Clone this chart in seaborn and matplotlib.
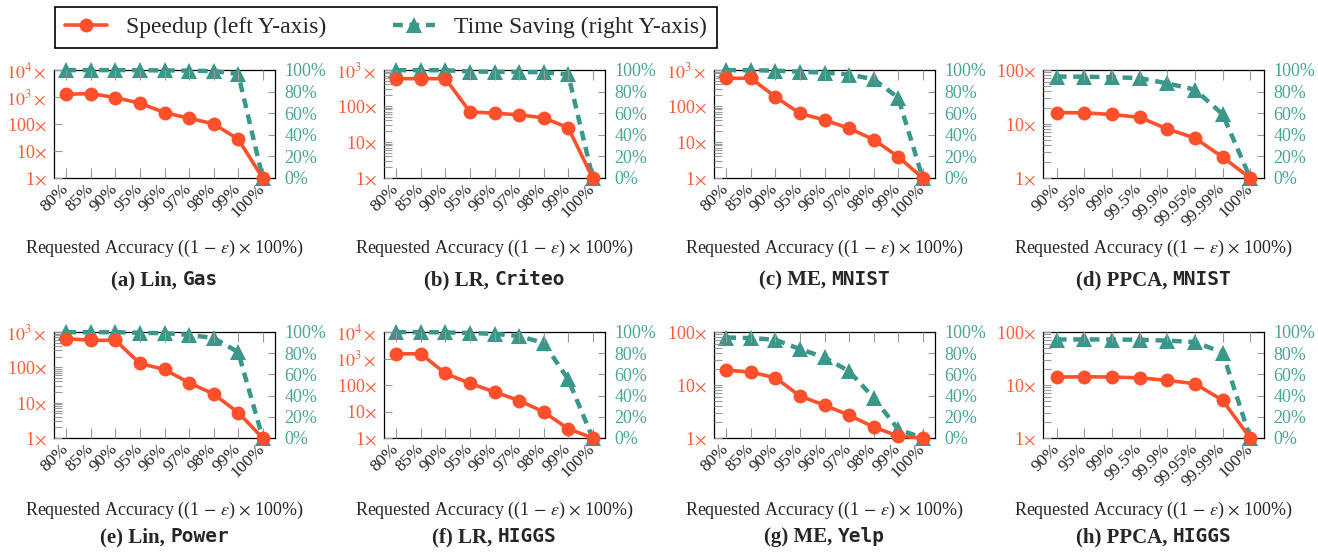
import numpy as np
import matplotlib
matplotlib.use("Agg")
import matplotlib.pyplot as plt
import seaborn as sns
from matplotlib.lines import Line2D
from matplotlib.offsetbox import TextArea, HPacker, AnnotationBbox
from matplotlib.ticker import FixedLocator, FixedFormatter, LogLocator, NullFormatter

# ---------------- data ----------------
acc_full = ["80%", "85%", "90%", "95%", "96%", "97%", "98%", "99%", "100%"]
acc_ppca = ["90%", "95%", "99%", "99.5%", "99.9%", "99.95%", "99.99%", "100%"]

speedup_lin_gas = [1260, 1340, 950, 590, 265, 164, 101, 27.5, 1]
saving_lin_gas = [99.9, 99.9, 99.9, 99.8, 99.6, 99.4, 99.0, 96.4, 0]

speedup_lr_criteo = [575, 575, 575, 69, 63, 57, 47, 25, 1]
saving_lr_criteo = [99.8, 99.8, 99.8, 98.6, 98.4, 98.2, 97.9, 96.0, 0]

speedup_me_mnist = [590, 590, 180, 62, 41, 24, 11.7, 3.9, 1]
saving_me_mnist = [99.8, 99.8, 99.4, 98.4, 97.6, 95.8, 91.5, 74.4, 0]

speedup_ppca_mnist = [16.3, 16.1, 15.0, 13.3, 8.1, 5.5, 2.44, 1]
saving_ppca_mnist = [93.9, 93.8, 93.3, 92.5, 87.6, 81.8, 59.0, 0]

speedup_lin_power = [650, 582, 582, 129, 87, 36.7, 17.6, 5.26, 1]
saving_lin_power = [99.85, 99.8, 99.8, 99.2, 98.9, 97.3, 94.3, 81.0, 0]

speedup_lr_higgs = [1500, 1500, 274, 115, 55, 26, 9.7, 2.24, 1]
saving_lr_higgs = [99.9, 99.9, 99.6, 99.1, 98.2, 96.2, 89.7, 55.4, 0]

speedup_me_yelp = [19.1, 17.5, 13.7, 6.2, 4.16, 2.7, 1.61, 1.09, 1]
saving_me_yelp = [94.8, 94.3, 92.7, 83.9, 76.0, 63.0, 37.9, 8.3, 0]

speedup_ppca_higgs = [14.1, 14.3, 14.1, 13.7, 12.2, 10.6, 5.16, 1]
saving_ppca_higgs = [92.9, 93.0, 92.9, 92.7, 91.8, 90.6, 80.6, 0]

panels = [
    ("(a) Lin, ", "Gas", acc_full, speedup_lin_gas, saving_lin_gas, 4),
    ("(b) LR, ", "Criteo", acc_full, speedup_lr_criteo, saving_lr_criteo, 3),
    ("(c) ME, ", "MNIST", acc_full, speedup_me_mnist, saving_me_mnist, 3),
    ("(d) PPCA, ", "MNIST", acc_ppca, speedup_ppca_mnist, saving_ppca_mnist, 2),
    ("(e) Lin, ", "Power", acc_full, speedup_lin_power, saving_lin_power, 3),
    ("(f) LR, ", "HIGGS", acc_full, speedup_lr_higgs, saving_lr_higgs, 4),
    ("(g) ME, ", "Yelp", acc_full, speedup_me_yelp, saving_me_yelp, 2),
    ("(h) PPCA, ", "HIGGS", acc_ppca, speedup_ppca_higgs, saving_ppca_higgs, 2),
]

# ---------------- style ----------------
sns.set_style("ticks")
plt.rcParams["font.family"] = ["Liberation Serif", "DejaVu Serif"]
plt.rcParams["mathtext.fontset"] = "stix"

ORANGE = "#FF4F2B"
ORANGE_TXT = "#FF5A36"
TEAL = "#3A978A"
TEAL_TXT = "#4AA595"
GRAY = "#9A9A9A"

W, H = 1318, 556
fig = plt.figure(figsize=(W / 100, H / 100), dpi=100)

col_left = [54, 384, 714, 1043]
ax_w = 221
rows = [(70, 178), (332, 438)]

def ytick_label(i):
    if i == 0:
        return r"1$\times$"
    if i == 1:
        return r"10$\times$"
    if i == 2:
        return r"100$\times$"
    return r"$10^{%d}\times$" % i

for idx, (cap, dname, labels, spd, sav, kmax) in enumerate(panels):
    r, c = divmod(idx, 4)
    top, bot = rows[r]
    ax = fig.add_axes([col_left[c] / W, 1 - bot / H, ax_w / W, (bot - top) / H])
    ax2 = ax.twinx()
    n = len(labels)
    x = np.arange(n)

    sns.lineplot(x=x, y=sav, ax=ax2, color=TEAL, marker="^", markersize=11.5,
                 markeredgewidth=0, linewidth=3.2, linestyle=(0, (2.2, 1.5)),
                 clip_on=False, zorder=3)
    sns.lineplot(x=x, y=spd, ax=ax, color=ORANGE, marker="o", markersize=10,
                 markeredgewidth=0, linewidth=2.6, clip_on=False, zorder=3)

    ax.set_zorder(ax2.get_zorder() + 1)
    ax.patch.set_visible(False)
    for s in ax.spines.values():
        s.set_visible(False)
    for s in ax2.spines.values():
        s.set_visible(True)
        s.set_color("black")
        s.set_linewidth(0.9)

    ax.set_yscale("log")
    ax.set_ylim(1, 10 ** kmax)
    ax.yaxis.set_major_locator(FixedLocator([10 ** i for i in range(kmax + 1)]))
    ax.yaxis.set_major_formatter(FixedFormatter([ytick_label(i) for i in range(kmax + 1)]))
    ax.yaxis.set_minor_locator(LogLocator(base=10, subs=np.arange(2, 10)))
    ax.yaxis.set_minor_formatter(NullFormatter())
    ax.tick_params(axis="y", which="both", direction="in", length=6, width=0.8,
                   color=GRAY, labelcolor=ORANGE_TXT, labelsize=13, pad=5)

    ax.set_xlim(-0.5, n - 0.5)
    ax.set_xticks(x)
    ax.set_xticklabels(labels, rotation=45, ha="right", va="center",
                       rotation_mode="anchor")
    ax.tick_params(axis="x", direction="in", top=True, bottom=True, length=7,
                   width=0.8, color=GRAY, labelsize=12.5, pad=6)

    ax2.set_ylim(0, 100)
    ax2.yaxis.set_major_locator(FixedLocator([0, 20, 40, 60, 80, 100]))
    ax2.yaxis.set_major_formatter(FixedFormatter([f"{v}%" for v in [0, 20, 40, 60, 80, 100]]))
    ax2.tick_params(axis="y", direction="in", length=5, width=0.8, color=GRAY,
                    labelcolor=TEAL_TXT, labelsize=13, pad=7)
    ax.set_ylabel("")
    ax2.set_ylabel("")

    ax.set_xlabel(r"Requested Accuracy ((1 $-$ $\varepsilon$) $\times$ 100%)",
                  fontsize=13, va="center")
    ax.xaxis.set_label_coords(0.5, -(248 - 178) / 108 if r == 0 else -(510 - 438) / 106)

    ta1 = TextArea(cap, textprops=dict(family=["Liberation Serif"], weight="bold", size=15))
    ta2 = TextArea(dname, textprops=dict(family=["DejaVu Sans Mono"], weight="bold", size=14))
    pack = HPacker(children=[ta1, ta2], align="baseline", pad=0, sep=0)
    cy = -(280 - 178) / 108 if r == 0 else -(537 - 438) / 106
    ab = AnnotationBbox(pack, (0.5, cy), xycoords=ax.transAxes, frameon=False,
                        box_alignment=(0.5, 0.5), annotation_clip=False)
    ax.add_artist(ab)

handles = [
    Line2D([], [], color=ORANGE, marker="o", markersize=10, markeredgewidth=0, linewidth=2.6),
    Line2D([], [], color=TEAL, marker="^", markersize=11.5, markeredgewidth=0, linewidth=3.2,
           linestyle=(0, (2.2, 1.5))),
]
leg = fig.legend(handles, ["Speedup (left Y-axis)", "Time Saving (right Y-axis)"],
                 loc="upper left", bbox_to_anchor=(55 / W, 1 - 7 / H), ncol=2,
                 frameon=True, fancybox=False, edgecolor="black", framealpha=1,
                 borderaxespad=0, fontsize=17, handlelength=1.8, columnspacing=2.8,
                 handletextpad=0.8, borderpad=0.42)
leg.get_frame().set_linewidth(1.2)

fig.savefig("out.png", dpi=100)
